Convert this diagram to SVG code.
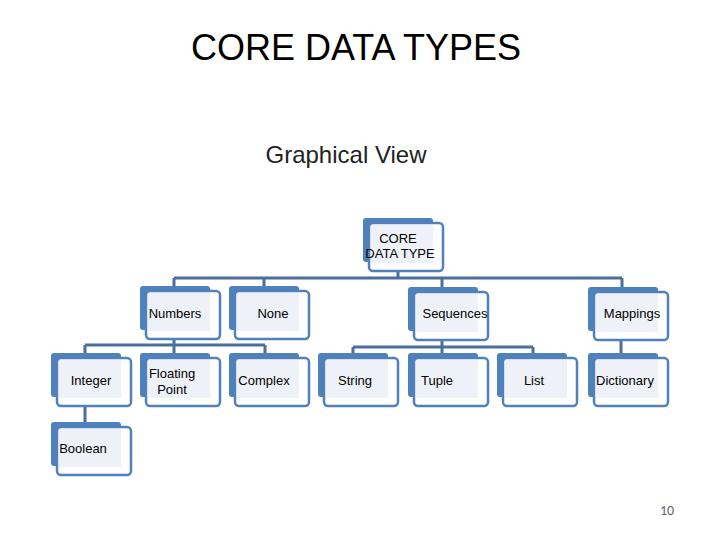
<svg xmlns="http://www.w3.org/2000/svg" width="720" height="540" viewBox="0 0 720 540">
<style>
.bk{fill:#4f81bd}
.fr{fill:#ffffff;stroke:#4f81bd;stroke-width:2.5}
.in{fill:#eef2f8}
.t{font-family:"Liberation Sans",Arial,sans-serif;font-size:13px;fill:#000;text-anchor:middle}
.c{stroke:#4a6f9b;stroke-width:3;fill:none}
</style>
<defs>
<g id="nd">
<rect class="bk" x="0" y="0" width="70" height="44" rx="3"/>
<rect class="fr" x="6" y="5" width="74" height="48" rx="4"/>
<rect class="in" x="8" y="7" width="62" height="38"/>
</g>
</defs>
<rect width="720" height="540" fill="#fff"/>
<text x="356" y="60" font-family="Liberation Sans,Arial,sans-serif" font-size="36" text-anchor="middle">CORE DATA TYPES</text>
<text x="346" y="163" font-family="Liberation Sans,Arial,sans-serif" font-size="24" text-anchor="middle" fill="#222">Graphical View</text>
<g id="connectors">
<path class="c" d="M398 271V278M174 278H622M174 278V288M264 278V288M442 278V288M622 278V288"/>
<path class="c" d="M174 338V345M85 345H265M85 345V355M174 345V355M265 345V355"/>
<path class="c" d="M442 338V347M353 347H533M353 347V355M442 347V355M533 347V355"/>
<path class="c" d="M621 338V355M85 406V424"/>
</g>
<g id="root"><use href="#nd" x="363" y="218"/><text class="t" x="398" y="243">CORE</text><text class="t" x="400" y="258">DATA TYPE</text></g>
<g id="numbers"><use href="#nd" x="140" y="286"/><text class="t" x="175" y="318">Numbers</text></g>
<g id="none"><use href="#nd" x="229" y="286"/><text class="t" x="273" y="318">None</text></g>
<g id="sequences"><use href="#nd" x="408" y="287"/><text class="t" x="455" y="318">Sequences</text></g>
<g id="mappings"><use href="#nd" x="588" y="287"/><text class="t" x="632" y="318">Mappings</text></g>
<g id="integer"><use href="#nd" x="51" y="353"/><text class="t" x="91" y="385">Integer</text></g>
<g id="floating"><use href="#nd" x="140" y="353"/><text class="t" x="172" y="378">Floating</text><text class="t" x="172" y="394">Point</text></g>
<g id="complex"><use href="#nd" x="229" y="353"/><text class="t" x="264" y="385">Complex</text></g>
<g id="string"><use href="#nd" x="318" y="353"/><text class="t" x="355" y="385">String</text></g>
<g id="tuple"><use href="#nd" x="408" y="353"/><text class="t" x="437" y="385">Tuple</text></g>
<g id="list"><use href="#nd" x="497" y="353"/><text class="t" x="534" y="385">List</text></g>
<g id="dictionary"><use href="#nd" x="588" y="353"/><text class="t" x="625" y="385">Dictionary</text></g>
<g id="boolean"><use href="#nd" x="51" y="422"/><text class="t" x="83" y="453">Boolean</text></g>
<text x="667" y="515" font-family="Calibri,Carlito,'Liberation Sans',sans-serif" font-size="14" text-anchor="middle" fill="#666">10</text>
</svg>
